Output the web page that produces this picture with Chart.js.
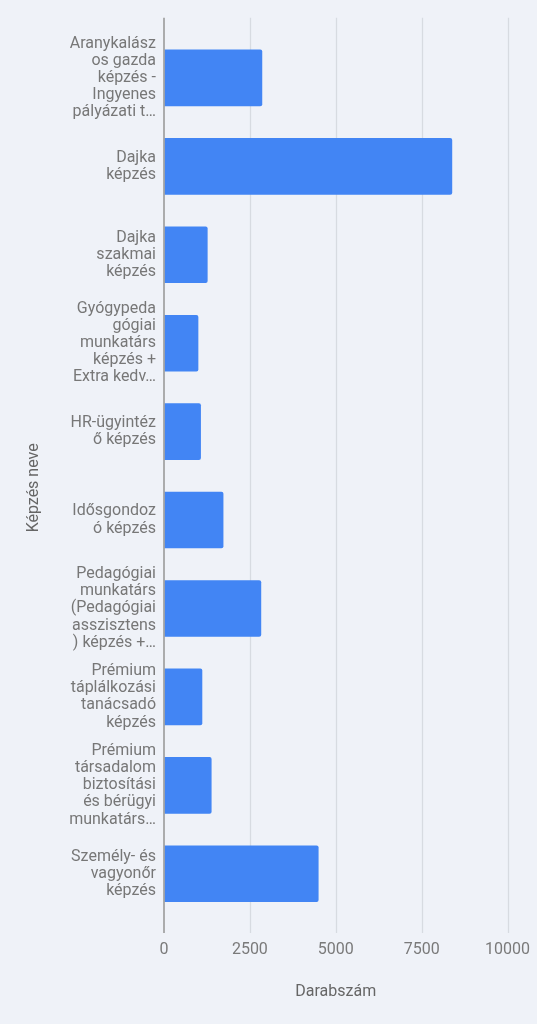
<!DOCTYPE html>
<html>
<head>
<meta charset="utf-8">
<script src="https://cdn.jsdelivr.net/npm/chart.js@4"></script>
<style>
    html, body { margin: 0; padding: 0; background: #eff2f8; }
    #wrap { width: 537px; height: 1024px; }
</style>
</head>
<body>
<div id="wrap"><canvas id="kepzesChart" width="537" height="1024"></canvas></div>
<script>
// chart data
const kepzesLabels = [
    ["Aranykalász", "os gazda", "képzés -", "Ingyenes", "pályázati t…"],
    ["Dajka", "képzés"],
    ["Dajka", "szakmai", "képzés"],
    ["Gyógypeda", "gógiai", "munkatárs", "képzés +", "Extra kedv…"],
    ["HR-ügyintéz", "ő képzés"],
    ["Idősgondoz", "ó képzés"],
    ["Pedagógiai", "munkatárs", "(Pedagógiai", "asszisztens", ") képzés +…"],
    ["Prémium", "táplálkozási", "tanácsadó", "képzés"],
    ["Prémium", "társadalom", "biztosítási", "és bérügyi", "munkatárs…"],
    ["Személy- és", "vagyonőr", "képzés"]
];
const darabszam = [2860, 8390, 1270, 1000, 1075, 1730, 2830, 1115, 1385, 4500];
const xTicks = [0, 2500, 5000, 7500, 10000];
const xTitle = "Darabszám";
const yTitle = "Képzés neve";

const bgColor = "#eff2f8";
const gridColor = "#d7dbe1";
const axisColor = "#9a9a9a";

// background, grid lines running past the bars, axis line and the y title
const gridPlugin = {
    id: "gridPlugin",
    beforeDraw(chart) {
        const ctx = chart.ctx;
        ctx.save();
        ctx.fillStyle = bgColor;
        ctx.fillRect(0, 0, chart.width, chart.height);
        ctx.restore();
    },
    beforeDatasetsDraw(chart) {
        const ctx = chart.ctx;
        const area = chart.chartArea;
        const xScale = chart.scales.x;
        ctx.save();
        ctx.strokeStyle = gridColor;
        ctx.lineWidth = 1.3;
        xTicks.forEach(v => {
            if (v === 0) return;
            const px = Math.round(xScale.getPixelForValue(v)) + 0.5;
            ctx.beginPath();
            ctx.moveTo(px, area.top - 16);
            ctx.lineTo(px, area.bottom + 15);
            ctx.stroke();
        });
        ctx.restore();
    },
    afterDatasetsDraw(chart) {
        const ctx = chart.ctx;
        const area = chart.chartArea;
        const px = chart.scales.x.getPixelForValue(0);
        ctx.save();
        ctx.strokeStyle = axisColor;
        ctx.lineWidth = 1.6;
        ctx.beginPath();
        ctx.moveTo(px, area.top - 16);
        ctx.lineTo(px, area.bottom + 15);
        ctx.stroke();

        // y axis title, centred on the plot plus the tick label row
        ctx.translate(33.5, (area.top - 16 + area.bottom + 40) / 2);
        ctx.rotate(-Math.PI / 2);
        ctx.fillStyle = "#666";
        ctx.font = "16px Roboto";
        ctx.textAlign = "center";
        ctx.textBaseline = "middle";
        ctx.fillText(yTitle, 0, 0);
        ctx.restore();
    }
};

const ctxKepzes = document.getElementById("kepzesChart").getContext("2d");
new Chart(ctxKepzes, {
    type: "bar",
    data: {
        labels: kepzesLabels,
        datasets: [{
            label: xTitle,
            data: darabszam,
            backgroundColor: "#4285f4",
            borderRadius: 2,
            borderSkipped: "start",
            barPercentage: 0.64,
            categoryPercentage: 1
        }]
    },
    options: {
        indexAxis: "y",
        responsive: false,
        animation: false,
        layout: {
            padding: { top: 33, bottom: 8, left: 20, right: 27 }
        },
        plugins: {
            legend: { display: false },
            tooltip: { enabled: false }
        },
        scales: {
            x: {
                min: 0,
                max: 10000,
                afterBuildTicks: scale => {
                    scale.ticks = xTicks.map(v => ({ value: v }));
                },
                afterFit: scale => { scale.height = 98; },
                grid: {
                    color: "rgba(0,0,0,0)",
                    drawTicks: true,
                    tickLength: 15
                },
                border: { display: false },
                ticks: {
                    padding: 7,
                    color: "#7a7a7a",
                    font: { family: "Roboto", size: 16 },
                    maxRotation: 0,
                    callback: value => String(value)
                },
                title: {
                    display: true,
                    text: xTitle,
                    color: "#666",
                    font: { family: "Roboto", size: 16 },
                    padding: { top: 0, bottom: 14 }
                }
            },
            y: {
                afterFit: scale => { scale.width = 144; },
                grid: { display: false, drawTicks: false },
                border: { display: false },
                ticks: {
                    padding: 8,
                    color: "#777",
                    font: { family: "Roboto", size: 16, lineHeight: 1.07 },
                    autoSkip: false
                },
                title: { display: false }
            }
        }
    },
    plugins: [gridPlugin]
});
</script>
</body>
</html>
